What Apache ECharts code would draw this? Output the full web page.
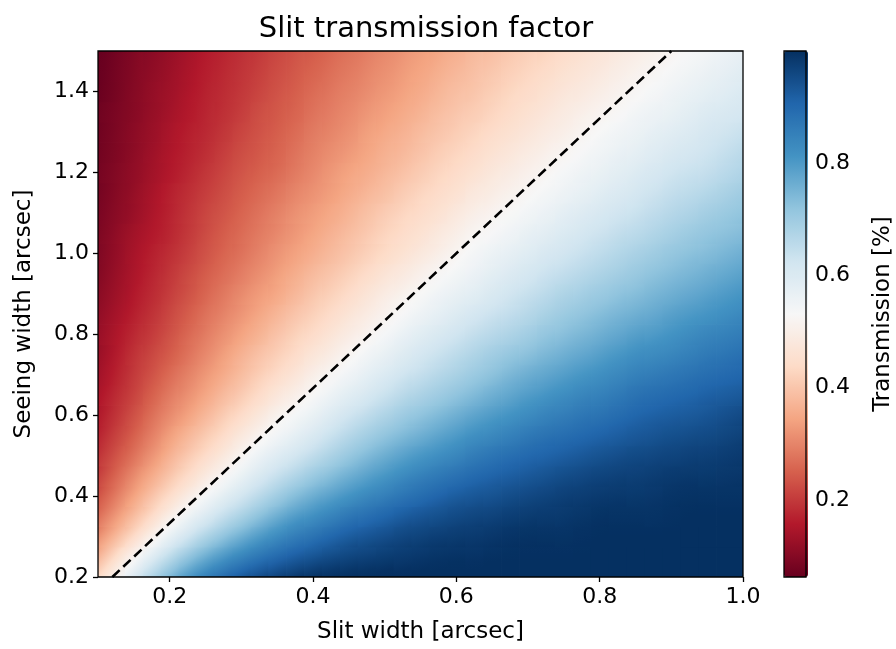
<!DOCTYPE html>
<html>
<head>
<meta charset="utf-8">
<title>Slit transmission factor</title>
<script src="https://cdn.jsdelivr.net/npm/echarts@6/dist/echarts.min.js"></script>
<style>
  html, body { margin: 0; padding: 0; background: #fff; }
  #chart { width: 896px; height: 649px; }
</style>
</head>
<body>
<div id="chart"></div>
<script>
// cell centres along the slit axis (arcsec)
const slitWidths = [
  0.1125, 0.1375, 0.1625, 0.1875, 0.2125, 0.2375, 0.2625, 0.2875, 0.3125, 0.3375, 0.3625, 0.3875,
  0.4125, 0.4375, 0.4625, 0.4875, 0.5125, 0.5375, 0.5625, 0.5875, 0.6125, 0.6375, 0.6625, 0.6875,
  0.7125, 0.7375, 0.7625, 0.7875, 0.8125, 0.8375, 0.8625, 0.8875, 0.9125, 0.9375, 0.9625, 0.9875
]
// cell centres along the seeing axis (arcsec)
const seeingWidths = [
  0.225, 0.275, 0.325, 0.375, 0.425, 0.475, 0.525, 0.575, 0.625, 0.675, 0.725, 0.775, 0.825,
  0.875, 0.925, 0.975, 1.025, 1.075, 1.125, 1.175, 1.225, 1.275, 1.325, 1.375, 1.425, 1.475
]
// transmission, one row per seeing width (bottom row first)
const transmission = [
  [0.44,0.53,0.60,0.67,0.73,0.79,0.83,0.87,0.90,0.92,0.94,0.96,0.97,0.98,0.98,0.99,0.99,0.99,1.00,1.00,1.00,1.00,1.00,1.00,1.00,1.00,1.00,1.00,1.00,1.00,1.00,1.00,1.00,1.00,1.00,1.00],
  [0.37,0.44,0.51,0.58,0.64,0.69,0.74,0.78,0.82,0.85,0.88,0.90,0.92,0.94,0.95,0.96,0.97,0.98,0.98,0.99,0.99,0.99,1.00,1.00,1.00,1.00,1.00,1.00,1.00,1.00,1.00,1.00,1.00,1.00,1.00,1.00],
  [0.32,0.38,0.44,0.50,0.56,0.61,0.66,0.70,0.74,0.78,0.81,0.84,0.86,0.89,0.91,0.92,0.94,0.95,0.96,0.97,0.97,0.98,0.98,0.99,0.99,0.99,0.99,1.00,1.00,1.00,1.00,1.00,1.00,1.00,1.00,1.00],
  [0.28,0.33,0.39,0.44,0.50,0.54,0.59,0.63,0.67,0.71,0.75,0.78,0.80,0.83,0.85,0.87,0.89,0.91,0.92,0.93,0.95,0.95,0.96,0.97,0.97,0.98,0.98,0.99,0.99,0.99,0.99,0.99,1.00,1.00,1.00,1.00],
  [0.24,0.30,0.35,0.40,0.44,0.49,0.53,0.57,0.61,0.65,0.68,0.72,0.75,0.77,0.80,0.82,0.84,0.86,0.88,0.90,0.91,0.92,0.93,0.94,0.95,0.96,0.97,0.97,0.98,0.98,0.98,0.99,0.99,0.99,0.99,0.99],
  [0.22,0.27,0.31,0.36,0.40,0.44,0.48,0.52,0.56,0.60,0.63,0.66,0.69,0.72,0.75,0.77,0.80,0.82,0.84,0.85,0.87,0.89,0.90,0.91,0.92,0.93,0.94,0.95,0.96,0.96,0.97,0.97,0.98,0.98,0.98,0.99],
  [0.20,0.24,0.28,0.33,0.37,0.41,0.44,0.48,0.52,0.55,0.58,0.61,0.64,0.67,0.70,0.73,0.75,0.77,0.79,0.81,0.83,0.85,0.86,0.88,0.89,0.90,0.91,0.92,0.93,0.94,0.95,0.95,0.96,0.96,0.97,0.97],
  [0.18,0.22,0.26,0.30,0.34,0.37,0.41,0.44,0.48,0.51,0.54,0.57,0.60,0.63,0.66,0.68,0.71,0.73,0.75,0.77,0.79,0.81,0.82,0.84,0.86,0.87,0.88,0.89,0.90,0.91,0.92,0.93,0.94,0.94,0.95,0.96],
  [0.17,0.20,0.24,0.28,0.31,0.34,0.38,0.41,0.44,0.48,0.51,0.53,0.56,0.59,0.62,0.64,0.67,0.69,0.71,0.73,0.75,0.77,0.79,0.80,0.82,0.83,0.85,0.86,0.87,0.89,0.90,0.91,0.91,0.92,0.93,0.94],
  [0.16,0.19,0.22,0.26,0.29,0.32,0.35,0.38,0.41,0.44,0.47,0.50,0.53,0.55,0.58,0.60,0.63,0.65,0.67,0.69,0.71,0.73,0.75,0.77,0.79,0.80,0.82,0.83,0.84,0.86,0.87,0.88,0.89,0.90,0.91,0.91],
  [0.14,0.18,0.21,0.24,0.27,0.30,0.33,0.36,0.39,0.42,0.44,0.47,0.50,0.52,0.55,0.57,0.60,0.62,0.64,0.66,0.68,0.70,0.72,0.74,0.75,0.77,0.78,0.80,0.81,0.83,0.84,0.85,0.86,0.87,0.88,0.89],
  [0.14,0.17,0.20,0.22,0.25,0.28,0.31,0.34,0.37,0.39,0.42,0.44,0.47,0.49,0.52,0.54,0.56,0.59,0.61,0.63,0.65,0.67,0.69,0.70,0.72,0.74,0.75,0.77,0.78,0.80,0.81,0.82,0.83,0.85,0.86,0.87],
  [0.13,0.16,0.18,0.21,0.24,0.27,0.29,0.32,0.34,0.37,0.40,0.42,0.44,0.47,0.49,0.51,0.54,0.56,0.58,0.60,0.62,0.64,0.65,0.67,0.69,0.71,0.72,0.74,0.75,0.77,0.78,0.79,0.81,0.82,0.83,0.84],
  [0.12,0.15,0.17,0.20,0.22,0.25,0.28,0.30,0.33,0.35,0.37,0.40,0.42,0.44,0.47,0.49,0.51,0.53,0.55,0.57,0.59,0.61,0.63,0.64,0.66,0.68,0.70,0.71,0.73,0.74,0.75,0.77,0.78,0.79,0.80,0.82],
  [0.11,0.14,0.16,0.19,0.21,0.24,0.26,0.29,0.31,0.33,0.35,0.38,0.40,0.42,0.44,0.47,0.49,0.51,0.53,0.55,0.56,0.58,0.60,0.62,0.64,0.65,0.67,0.68,0.70,0.71,0.73,0.74,0.75,0.77,0.78,0.79],
  [0.11,0.13,0.16,0.18,0.20,0.23,0.25,0.27,0.29,0.32,0.34,0.36,0.38,0.40,0.42,0.44,0.46,0.48,0.50,0.52,0.54,0.56,0.58,0.59,0.61,0.63,0.64,0.66,0.67,0.69,0.70,0.72,0.73,0.74,0.75,0.77],
  [0.10,0.13,0.15,0.17,0.19,0.21,0.24,0.26,0.28,0.30,0.32,0.34,0.36,0.38,0.40,0.42,0.44,0.46,0.48,0.50,0.52,0.54,0.55,0.57,0.59,0.60,0.62,0.63,0.65,0.66,0.68,0.69,0.71,0.72,0.73,0.74],
  [0.10,0.12,0.14,0.16,0.18,0.21,0.23,0.25,0.27,0.29,0.31,0.33,0.35,0.37,0.39,0.41,0.43,0.44,0.46,0.48,0.50,0.52,0.53,0.55,0.56,0.58,0.60,0.61,0.63,0.64,0.65,0.67,0.68,0.70,0.71,0.72],
  [0.09,0.11,0.13,0.16,0.18,0.20,0.22,0.24,0.26,0.28,0.30,0.32,0.33,0.35,0.37,0.39,0.41,0.43,0.44,0.46,0.48,0.50,0.51,0.53,0.54,0.56,0.57,0.59,0.60,0.62,0.63,0.65,0.66,0.67,0.69,0.70],
  [0.09,0.11,0.13,0.15,0.17,0.19,0.21,0.23,0.25,0.26,0.28,0.30,0.32,0.34,0.36,0.37,0.39,0.41,0.43,0.44,0.46,0.48,0.49,0.51,0.52,0.54,0.55,0.57,0.58,0.60,0.61,0.63,0.64,0.65,0.66,0.68],
  [0.09,0.10,0.12,0.14,0.16,0.18,0.20,0.22,0.24,0.25,0.27,0.29,0.31,0.33,0.34,0.36,0.38,0.39,0.41,0.43,0.44,0.46,0.48,0.49,0.51,0.52,0.54,0.55,0.56,0.58,0.59,0.61,0.62,0.63,0.64,0.66],
  [0.08,0.10,0.12,0.14,0.16,0.17,0.19,0.21,0.23,0.24,0.26,0.28,0.30,0.31,0.33,0.35,0.36,0.38,0.40,0.41,0.43,0.44,0.46,0.47,0.49,0.50,0.52,0.53,0.55,0.56,0.57,0.59,0.60,0.61,0.63,0.64],
  [0.08,0.10,0.11,0.13,0.15,0.17,0.18,0.20,0.22,0.24,0.25,0.27,0.29,0.30,0.32,0.34,0.35,0.37,0.38,0.40,0.41,0.43,0.44,0.46,0.47,0.49,0.50,0.52,0.53,0.54,0.56,0.57,0.58,0.60,0.61,0.62],
  [0.08,0.09,0.11,0.13,0.14,0.16,0.18,0.19,0.21,0.23,0.24,0.26,0.28,0.29,0.31,0.32,0.34,0.35,0.37,0.39,0.40,0.41,0.43,0.44,0.46,0.47,0.49,0.50,0.51,0.53,0.54,0.55,0.56,0.58,0.59,0.60],
  [0.07,0.09,0.11,0.12,0.14,0.16,0.17,0.19,0.20,0.22,0.24,0.25,0.27,0.28,0.30,0.31,0.33,0.34,0.36,0.37,0.39,0.40,0.42,0.43,0.44,0.46,0.47,0.48,0.50,0.51,0.52,0.54,0.55,0.56,0.57,0.59],
  [0.07,0.09,0.10,0.12,0.13,0.15,0.17,0.18,0.20,0.21,0.23,0.24,0.26,0.27,0.29,0.30,0.32,0.33,0.35,0.36,0.38,0.39,0.40,0.42,0.43,0.44,0.46,0.47,0.48,0.50,0.51,0.52,0.53,0.55,0.56,0.57]
]
// dashed reference line (slit width, seeing width)
const limitLine = [[0.12, 0.2], [0.9, 1.5]]

const xTicks = [0.2, 0.4, 0.6, 0.8, 1.0]
const yTicks = [0.2, 0.4, 0.6, 0.8, 1.0, 1.2, 1.4]
const cbarTicks = [0.2, 0.4, 0.6, 0.8]
const cbarRange = [0.0626, 1.0]
const xRange = [0.1, 1.0]
const yRange = [0.2, 1.5]

// matplotlib RdBu
const rdbu = ['#67001f', '#b2182b', '#d6604d', '#f4a582', '#fddbc7', '#f7f7f7',
  '#d1e5f0', '#92c5de', '#4393c3', '#2166ac', '#053061']

const nx = slitWidths.length
const ny = seeingWidths.length

const cells = []
seeingWidths.forEach((s, j) => {
  slitWidths.forEach((w, i) => cells.push([w, s, transmission[j][i]]))
})

const FONT = 'DejaVu Sans'
const txt = (size) => ({ fontFamily: FONT, fontSize: size, color: '#000' })
const fmt = (v) => Number(v).toFixed(1)

const cmap = (v) => {
  const t = (v - cbarRange[0]) / (cbarRange[1] - cbarRange[0])
  return echarts.color.lerp(Math.min(1, Math.max(0, t)), rdbu)
}
const clampI = (i) => Math.min(nx - 1, Math.max(0, i))
const clampJ = (j) => Math.min(ny - 1, Math.max(0, j))

const chart = echarts.init(document.getElementById('chart'), null, { renderer: 'canvas' })

// each sample is the lower-left corner of a patch spanning to its neighbours;
// the patch is shaded with a gradient so the map looks continuous
const renderCell = (params, api) => {
  const j = Math.floor(params.dataIndex / nx)
  const i = params.dataIndex % nx
  if (i === nx - 1 || j === ny - 1) return null

  const xL = i === 0 ? xRange[0] : slitWidths[i]
  const xR = i === nx - 2 ? xRange[1] : slitWidths[i + 1]
  const yB = j === 0 ? yRange[0] : seeingWidths[j]
  const yT = j === ny - 2 ? yRange[1] : seeingWidths[j + 1]
  const pTL = api.coord([xL, yT])
  const pBR = api.coord([xR, yB])

  const a = api.coord([slitWidths[i], seeingWidths[j]])
  const b = api.coord([slitWidths[i + 1], seeingWidths[j + 1]])
  const pxPerX = (b[0] - a[0]) / (slitWidths[i + 1] - slitWidths[i])
  const pxPerY = (a[1] - b[1]) / (seeingWidths[j + 1] - seeingWidths[j])

  // slope from a wider stencil, to even out the rounding of the read values
  const i0 = clampI(i - 1), i1 = clampI(i + 2)
  const j0 = clampJ(j - 1), j1 = clampJ(j + 2)
  const gx = ((transmission[j][i1] - transmission[j][i0]) + (transmission[j + 1][i1] - transmission[j + 1][i0])) / 2 /
    ((slitWidths[i1] - slitWidths[i0]) * pxPerX)
  const gy = -((transmission[j1][i] - transmission[j0][i]) + (transmission[j1][i + 1] - transmission[j0][i + 1])) / 2 /
    ((seeingWidths[j1] - seeingWidths[j0]) * pxPerY)
  const vc = (transmission[j][i] + transmission[j][i + 1] + transmission[j + 1][i] + transmission[j + 1][i + 1]) / 4
  const cx = (a[0] + b[0]) / 2
  const cy = (a[1] + b[1]) / 2
  const g = Math.hypot(gx, gy)

  let fill = cmap(vc)
  if (g > 1e-7) {
    const dx = gx / g
    const dy = gy / g
    const proj = [[pTL[0], pTL[1]], [pBR[0], pTL[1]], [pTL[0], pBR[1]], [pBR[0], pBR[1]]]
      .map(p => (p[0] - cx) * dx + (p[1] - cy) * dy)
    const t0 = Math.min(...proj)
    const t1 = Math.max(...proj)
    const stops = []
    for (let k = 0; k <= 4; k++) {
      const t = t0 + (t1 - t0) * k / 4
      stops.push({ offset: k / 4, color: cmap(vc + g * t) })
    }
    fill = new echarts.graphic.LinearGradient(
      cx + dx * t0, cy + dy * t0, cx + dx * t1, cy + dy * t1, stops, true)
  }

  return {
    type: 'rect',
    shape: { x: pTL[0], y: pTL[1], width: pBR[0] - pTL[0] + 0.8, height: pBR[1] - pTL[1] + 0.8 },
    style: { fill: fill }
  }
}

const option = {
  animation: false,
  backgroundColor: '#fff',
  title: {
    text: 'Slit transmission factor',
    left: 421,
    top: 10,
    textAlign: 'center',
    textStyle: { ...txt(29), fontWeight: 'normal' }
  },
  grid: [
    { left: 98, top: 51, width: 645, height: 526, show: true, borderColor: '#000', borderWidth: 1.3, backgroundColor: 'transparent', z: 10 },
    { left: 784, top: 51, width: 24, height: 526, show: true, borderColor: '#000', borderWidth: 1.3, backgroundColor: 'transparent', z: 10 }
  ],
  xAxis: [
    {
      type: 'value', gridIndex: 0, min: xRange[0], max: xRange[1],
      name: 'Slit width [arcsec]', nameLocation: 'middle', nameGap: 44,
      nameTextStyle: txt(23),
      axisLine: { show: false },
      axisTick: { show: true, length: 5, customValues: xTicks, lineStyle: { color: '#000', width: 1.3 } },
      axisLabel: { customValues: xTicks, formatter: fmt, margin: 9, ...txt(22) },
      splitLine: { show: false }
    },
    { type: 'value', gridIndex: 1, min: 0, max: 1, show: false }
  ],
  yAxis: [
    {
      type: 'value', gridIndex: 0, min: yRange[0], max: yRange[1],
      name: 'Seeing width [arcsec]', nameLocation: 'middle', nameRotate: 90, nameGap: 62,
      nameTextStyle: txt(23),
      axisLine: { show: false },
      axisTick: { show: true, length: 5, customValues: yTicks, lineStyle: { color: '#000', width: 1.3 } },
      axisLabel: { customValues: yTicks, formatter: fmt, margin: 9, ...txt(22) },
      splitLine: { show: false }
    },
    {
      type: 'value', gridIndex: 1, position: 'right', min: cbarRange[0], max: cbarRange[1],
      name: 'Transmission [%]', nameLocation: 'middle', nameRotate: 90, nameGap: 66,
      nameTextStyle: txt(23),
      axisLine: { show: false },
      axisTick: { show: true, length: 5, customValues: cbarTicks, lineStyle: { color: '#000', width: 1.3 } },
      axisLabel: { customValues: cbarTicks, formatter: fmt, margin: 9, ...txt(22) },
      splitLine: { show: false }
    }
  ],
  visualMap: {
    type: 'continuous',
    seriesIndex: 0,
    dimension: 2,
    min: cbarRange[0],
    max: cbarRange[1],
    inRange: { color: rdbu },
    calculable: false,
    hoverLink: false,
    left: 784,
    top: 51,
    itemWidth: 24,
    itemHeight: 526,
    padding: 0
  },
  series: [
    {
      type: 'custom',
      xAxisIndex: 0,
      yAxisIndex: 0,
      data: cells,
      encode: { x: 0, y: 1 },
      renderItem: renderCell,
      clip: true,
      silent: true,
      z: 1
    },
    {
      type: 'line',
      xAxisIndex: 0,
      yAxisIndex: 0,
      data: limitLine,
      symbol: 'none',
      silent: true,
      lineStyle: { color: '#000', width: 2.6, type: [10, 5] },
      z: 3
    }
  ]
}

chart.setOption(option)
</script>
</body>
</html>
